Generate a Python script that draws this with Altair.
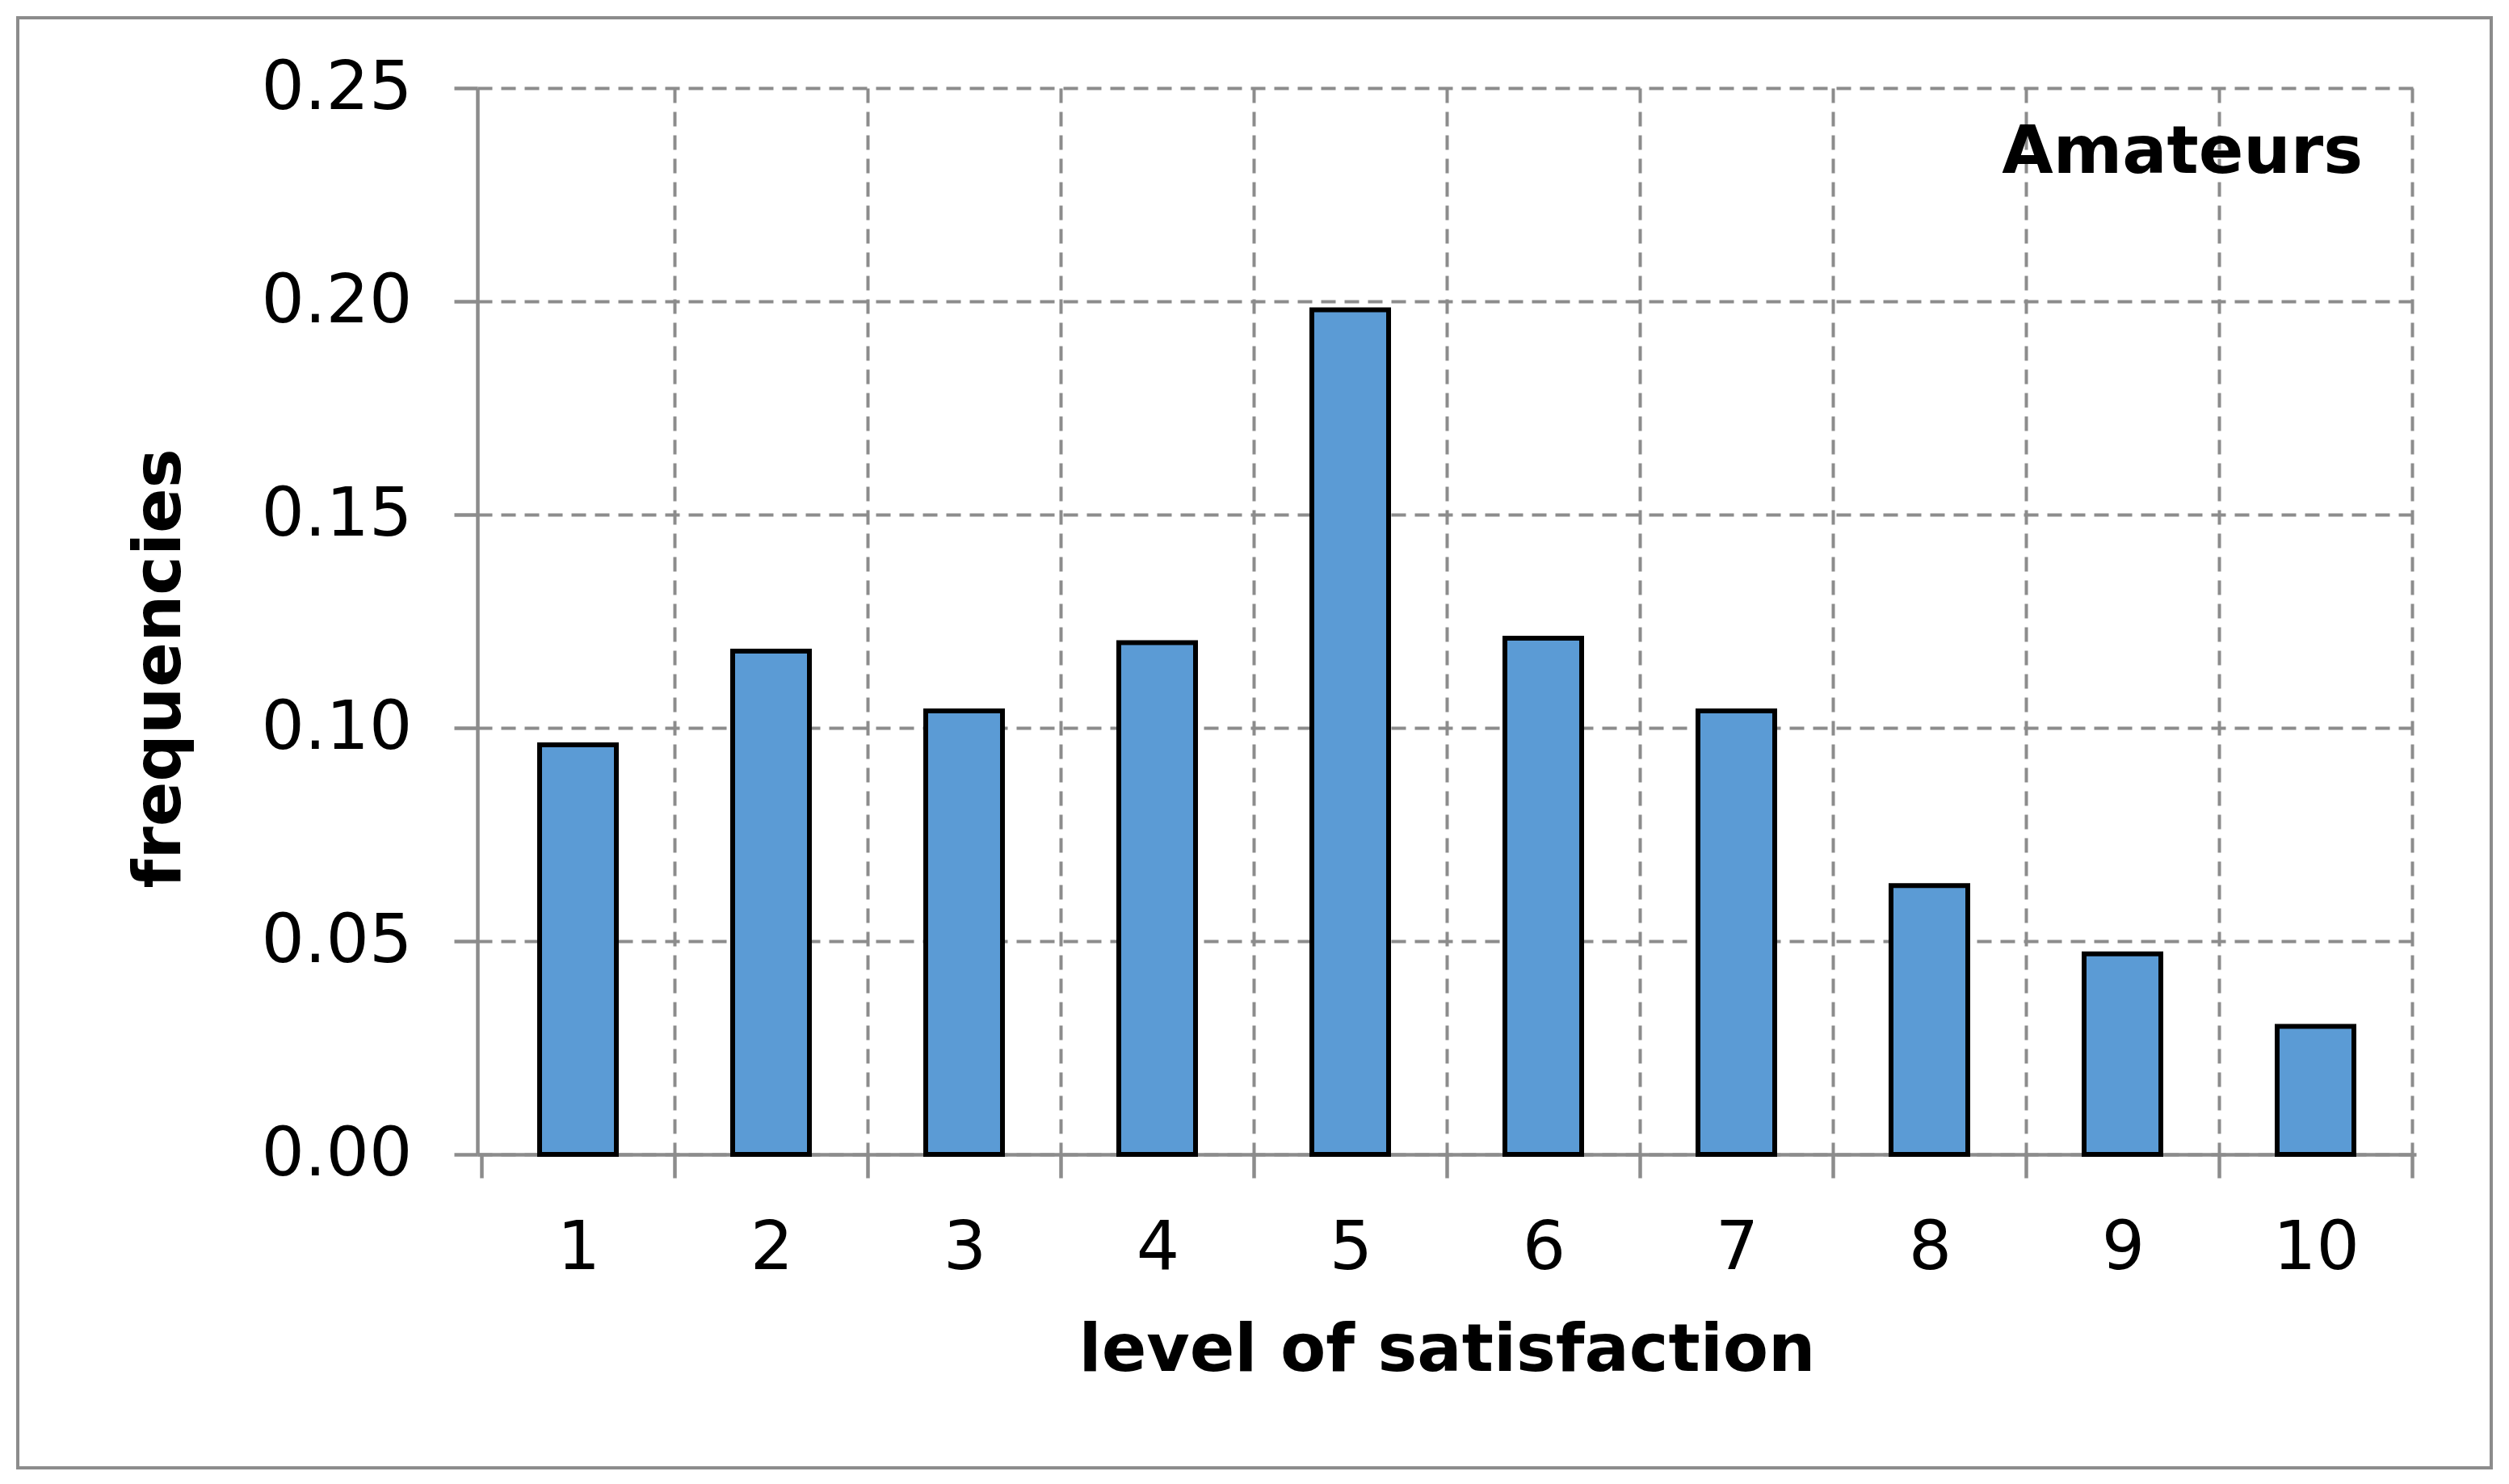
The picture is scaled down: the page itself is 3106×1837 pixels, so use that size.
import altair as alt
import pandas as pd

# ---- data ----
levels = [1, 2, 3, 4, 5, 6, 7, 8, 9, 10]
freqs = [0.096, 0.118, 0.104, 0.120, 0.198, 0.121, 0.104, 0.063, 0.047, 0.030]
x_boundaries = [0.5, 1.5, 2.5, 3.5, 4.5, 5.5, 6.5, 7.5, 8.5, 9.5, 10.5]
y_ticks = [0.0, 0.05, 0.10, 0.15, 0.20, 0.25]
series_label = ["Amateurs"]
x_title = "level of satisfaction"
y_title = "frequencies"

df = pd.DataFrame({"level": levels, "freq": freqs})

GREY = "#8c8c8c"
BLUE = "#5b9bd5"
FONT = "DejaVu Sans"

bars = alt.Chart(df).mark_bar(
    size=95, color=BLUE, stroke="black", strokeWidth=6
).encode(
    x=alt.X(
        "level:Q",
        scale=alt.Scale(domain=[0.5, 10.5], nice=False, zero=False),
        axis=alt.Axis(
            values=x_boundaries,
            labelExpr="datum.value < 10 ? toString(datum.value + 0.5) : ''",
            labelOffset=120,
            labelFlush=False,
            labelOverlap=False,
            labelBound=False,
            labelPadding=46,
            tickSize=29,
            grid=True,
            gridOpacity={"condition": {"test": "datum.value < 1", "value": 0}, "value": 1},
            title=x_title,
            titleY=267,
            titleBaseline="alphabetic",
        ),
    ),
    y=alt.Y(
        "freq:Q",
        scale=alt.Scale(domain=[0, 0.25], nice=False, zero=True),
        axis=alt.Axis(
            values=y_ticks,
            format=".2f",
            labelPadding=52,
            tickSize=29,
            grid=True,
            title=y_title,
            titleAngle=270,
            titleX=-369,
            titleY=718,
            titleAlign="center",
            titleBaseline="alphabetic",
        ),
    ),
)

note = alt.Chart(pd.DataFrame({"label": series_label})).mark_text(
    align="right", baseline="alphabetic", font=FONT, fontSize=82,
    fontWeight="bold", color="black"
).encode(
    text="label:N",
    x=alt.value(2334),
    y=alt.value(105),
)

frame = alt.Chart(pd.DataFrame({"f": [0]})).mark_rect(
    fillOpacity=0, stroke=GREY, strokeWidth=4
).encode(
    x=alt.value(-569), x2=alt.value(2493),
    y=alt.value(-87), y2=alt.value(1708),
)

chart = alt.layer(frame, bars, note).properties(
    width=2400,
    height=1320,
    padding={"left": 583, "top": 101, "right": 100, "bottom": 395},
    autosize=alt.AutoSizeParams(type="none"),
    background="white",
).configure_view(
    stroke="transparent"
).configure_axis(
    domainColor=GREY,
    domainWidth=4.5,
    tickColor=GREY,
    tickWidth=4.5,
    gridColor=GREY,
    gridWidth=4,
    gridDash=[18, 11],
    labelFont=FONT,
    labelFontSize=84,
    labelColor="black",
    labelLimit=0,
    titleFont=FONT,
    titleFontSize=82,
    titleFontWeight="bold",
    titleColor="black",
    titleLimit=0,
)

chart.save("out.html", embed_options={"renderer": "svg", "actions": False})
